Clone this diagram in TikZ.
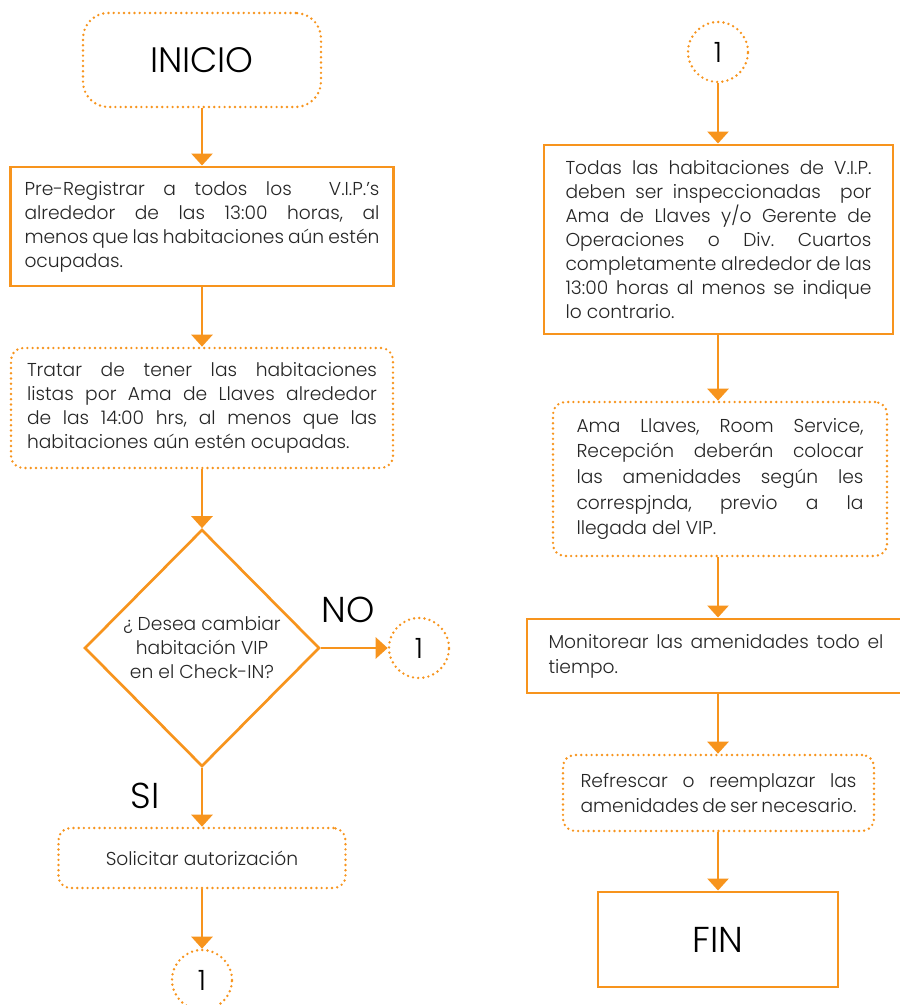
\documentclass[tikz,border=0pt]{standalone}
\usepackage{fontspec}
\setmainfont{Poppins Light}
\usetikzlibrary{arrows.meta,shapes.geometric}
\definecolor{flow}{HTML}{F7941D}
\definecolor{ink}{HTML}{262626}
\frenchspacing
\tikzset{
  solidbox/.style={draw=flow, line width=2.2pt, fill=white, text=ink, font=\fontsize{14}{18}\selectfont, inner sep=0pt},
  dotbox/.style={draw=flow, line width=2pt, dash pattern=on 0pt off 3.9pt, line cap=round, rounded corners=9pt, fill=white, text=ink, font=\fontsize{14}{18}\selectfont, inner sep=0pt},
  connector/.style={circle, draw=flow, line width=2pt, dash pattern=on 0pt off 3.9pt, line cap=round, minimum size=45pt, inner sep=0pt, text=black, font=\fontsize{21}{21}\selectfont},
  flowarrow/.style={draw=flow, line width=2pt, -{Triangle[width=15.75pt,length=9pt]}},
  bigtext/.style={text=black, font=\fontsize{27}{27}\selectfont},
  para/.style={align=justify}
}
\begin{document}
\begin{tikzpicture}[x=0.75pt,y=-0.75pt]
\useasboundingbox (0,0) rectangle (899,1005);

% left column
\node[dotbox, rounded corners=19pt, minimum width=178.5pt, minimum height=70.5pt, font=\fontsize{26.5}{26.5}\selectfont, text=black] (inicio) at (202,60) {INICIO};

\node[solidbox, minimum width=287.25pt, minimum height=89.25pt, text width=266.25pt, para] (prereg) at (202,226.5)
  {Pre-Registrar a todos los\ \ V.I.P.’s\linebreak alrededor de las 13:00 horas, al\linebreak menos que las habitaciones aún estén\linebreak ocupadas.};

\node[dotbox, minimum width=286.5pt, minimum height=90pt, text width=262.5pt, para] (tratar) at (202,408)
  {Tratar de tener las habitaciones\linebreak listas por Ama de Llaves alrededor\linebreak de las 14:00 hrs, al menos que las\linebreak habitaciones aún estén ocupadas.};

\node[diamond, draw=flow, line width=2pt, aspect=1, minimum width=176.25pt, minimum height=177.75pt, inner sep=0pt, text=ink, align=center, font=\fontsize{14}{18}\selectfont] (decide) at (202,648)
  {¿ Desea cambiar\\habitación VIP\\en el Check-IN?};

\node[connector] (outno) at (419,648) {1};
\node[bigtext] (labno) at (348,610) {NO};
\node[bigtext] (labsi) at (145,796) {SI};

\node[dotbox, minimum width=215.25pt, minimum height=45pt] (solicitar) at (202,858) {Solicitar autorización};
\node[connector] (outsi) at (202,980) {1};

% right column
\node[connector] (inone) at (718,52) {1};

\node[solidbox, minimum width=261.75pt, minimum height=141.75pt, text width=229.5pt, para] (todas) at (718.5,239.5)
  {Todas las habitaciones de V.I.P.\linebreak deben ser inspeccionadas\ \ por\linebreak Ama de Llaves y/o Gerente de\linebreak Operaciones o Div. Cuartos\linebreak completamente alrededor de las\linebreak 13:00 horas al menos se indique\linebreak lo contrario.};

\node[dotbox, minimum width=250.5pt, minimum height=115.5pt, text width=215.25pt, para, font=\fontsize{14}{19.3}\selectfont] (amenid) at (720,479)
  {Ama Llaves, Room Service,\linebreak Recepción deberán colocar\linebreak las amenidades según les\linebreak correspjnda, previo a la\linebreak llegada del VIP.};

\node[solidbox, minimum width=283.5pt, minimum height=55.5pt, text width=251.25pt, para, font=\fontsize{14}{18.8}\selectfont] (monitor) at (716,656)
  {Monitorear las amenidades todo el\linebreak tiempo.};

\node[dotbox, minimum width=233.25pt, minimum height=57pt, text width=207pt, para, font=\fontsize{14}{18.8}\selectfont] (refresh) at (718.5,793)
  {Refrescar o reemplazar las\linebreak amenidades de ser necesario.};

\node[solidbox, minimum width=180pt, minimum height=71.25pt, font=\fontsize{27}{27}\selectfont, text=black] (fin) at (718,939.5) {FIN};

% connectors
\draw[flowarrow] (inicio.south) -- (inicio.south |- prereg.north);
\draw[flowarrow] (prereg.south) -- (prereg.south |- tratar.north);
\draw[flowarrow] (tratar.south) -- (tratar.south |- decide.north);
\draw[flowarrow] (decide.east) -- (outno.west);
\draw[flowarrow] (decide.south) -- (decide.south |- solicitar.north);
\draw[flowarrow] (solicitar.south) -- (solicitar.south |- outsi.north);

\draw[flowarrow] (inone.south) -- (inone.south |- todas.north);
\draw[flowarrow] (inone.south |- todas.south) -- (inone.south |- amenid.north);
\draw[flowarrow] (inone.south |- amenid.south) -- (inone.south |- monitor.north);
\draw[flowarrow] (inone.south |- monitor.south) -- (inone.south |- refresh.north);
\draw[flowarrow] (inone.south |- refresh.south) -- (inone.south |- fin.north);
\end{tikzpicture}
\end{document}
